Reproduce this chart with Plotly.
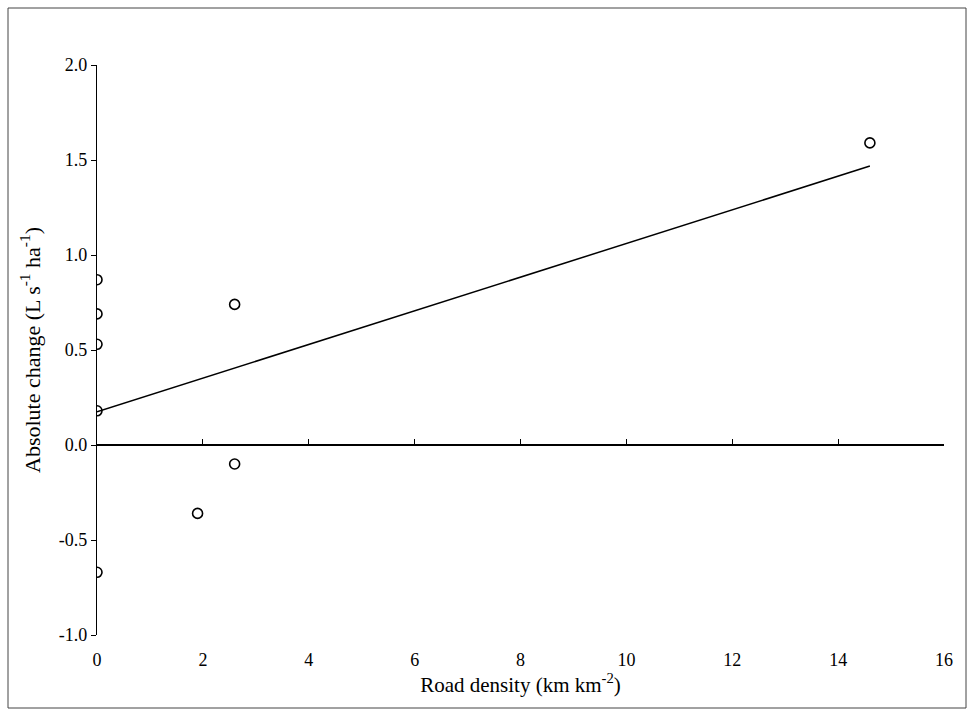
import plotly.graph_objects as go

# Data
road_density = [0, 0, 0, 0, 0, 1.9, 2.6, 2.6, 14.6]
abs_change = [0.87, 0.69, 0.53, 0.18, -0.67, -0.36, 0.74, -0.10, 1.59]
fit_x = [0, 14.6]
fit_y = [0.175, 1.468]
x_ticks = [0, 2, 4, 6, 8, 10, 12, 14, 16]
y_ticks = [-1.0, -0.5, 0.0, 0.5, 1.0, 1.5, 2.0]
y_tick_labels = ["-1.0", "-0.5", "0.0", "0.5", "1.0", "1.5", "2.0"]

FONT = "Liberation Serif"

fig = go.Figure()
fig.add_trace(go.Scatter(x=fit_x, y=fit_y, mode="lines",
                         line=dict(color="black", width=1.5), showlegend=False))
fig.add_trace(go.Scatter(x=road_density, y=abs_change, mode="markers",
                         marker=dict(symbol="circle-open", size=10,
                                     line=dict(color="black", width=1.6), color="black"),
                         showlegend=False))
# invisible trace to activate xaxis2
fig.add_trace(go.Scatter(x=[0], y=[0], xaxis="x2", mode="markers",
                         marker=dict(opacity=0), showlegend=False, hoverinfo="skip"))

W, H = 968, 715
L, R, T, B = 97, 24, 65, 80
pw, ph = W - L - R, H - T - B

fig.update_layout(
    width=W, height=H,
    margin=dict(l=L, r=R, t=T, b=B),
    paper_bgcolor="white", plot_bgcolor="white",
    font=dict(family=FONT, size=18, color="black"),
    xaxis=dict(range=[0, 16], tickvals=x_ticks, ticktext=[str(v) for v in x_ticks],
               showline=False, showgrid=False, zeroline=False, ticks="",
               ticklabelstandoff=12, tickfont=dict(size=18),
               title=dict(text="Road density (km km<sup>-2</sup>)", standoff=8,
                          font=dict(family=FONT, size=21))),
    xaxis2=dict(range=[0, 16], overlaying="x", anchor="free", position=1/3,
                side="bottom", tickvals=x_ticks, showticklabels=False,
                ticks="inside", ticklen=5, tickcolor="black", tickwidth=1,
                showline=True, linecolor="black", linewidth=1.5,
                showgrid=False, zeroline=False),
    yaxis=dict(range=[-1.0, 2.0], tickvals=y_ticks, ticktext=y_tick_labels,
               showline=True, linecolor="black", linewidth=1.2,
               ticks="outside", ticklen=5, tickcolor="black",
               showgrid=False, zeroline=False, tickfont=dict(size=18),
               title=dict(text="Absolute change (L s<sup>-1</sup> ha<sup>-1</sup>)",
                          standoff=12, font=dict(family=FONT, size=22))),
)

fig.add_shape(type="rect", xref="paper", yref="paper",
              x0=(8 - L) / pw, x1=(966 - L) / pw,
              y0=(T + ph - 708) / ph, y1=(T + ph - 8) / ph,
              line=dict(color="#444", width=1))

fig.write_html("out.html")
